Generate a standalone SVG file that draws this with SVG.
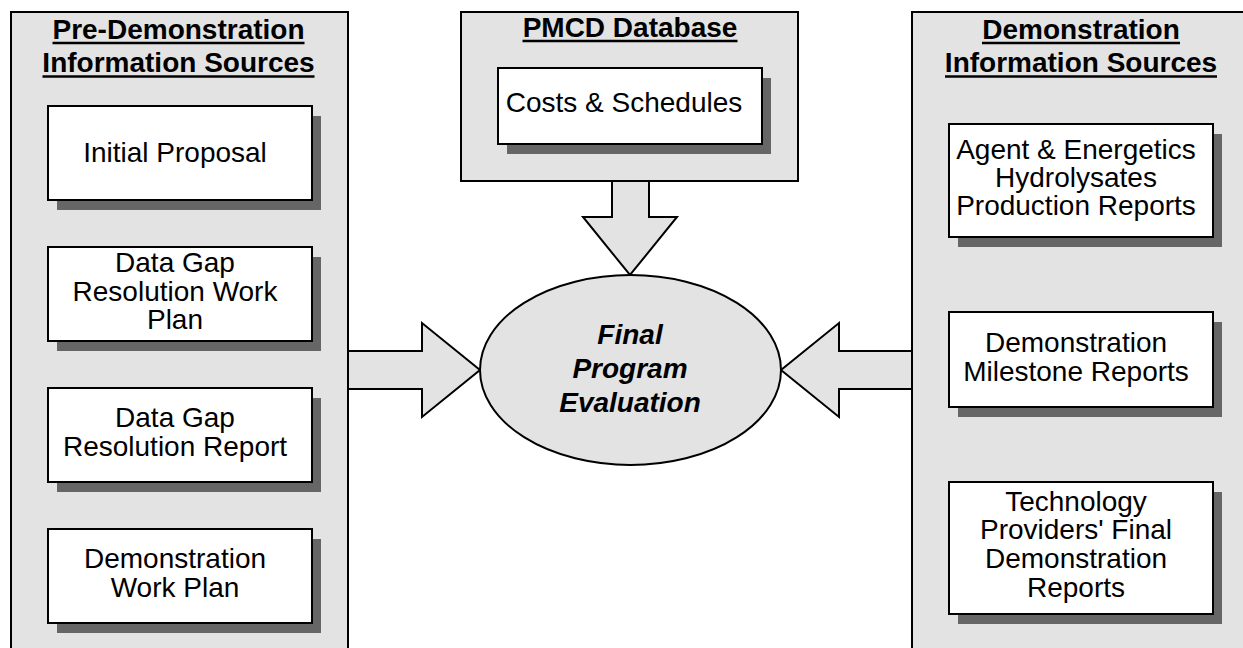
<svg xmlns="http://www.w3.org/2000/svg" width="1243" height="648" viewBox="0 0 1243 648">
<style>
.panel{fill:#e3e3e3;stroke:#000;stroke-width:2}
.box{fill:#fff;stroke:#000;stroke-width:2}
.shadow{fill:#666;stroke:none}
.arrow{fill:#e3e3e3;stroke:#000;stroke-width:2;stroke-linejoin:miter}
.title{font-family:"Liberation Sans",Arial,sans-serif;font-size:28px;font-weight:bold;fill:#000;text-anchor:middle}
.ul{stroke:#000;stroke-width:2.5}
.t{font-family:"Liberation Sans",Arial,sans-serif;font-size:28px;fill:#000;text-anchor:middle}
.ev{font-family:"Liberation Sans",Arial,sans-serif;font-size:28px;font-weight:bold;font-style:italic;fill:#000;text-anchor:middle}
</style>
<rect width="1243" height="648" fill="#fff"/>

<g id="panel-left">
<rect class="panel" x="11" y="12" width="337" height="660"/>
<text class="title" x="178.5" y="39">Pre-Demonstration</text>
<line class="ul" x1="52.5" y1="43" x2="304.5" y2="43"/>
<text class="title" x="178.5" y="72">Information Sources</text>
<line class="ul" x1="42.5" y1="76.5" x2="314.5" y2="76.5"/>
</g>

<g id="panel-pmcd">
<rect class="panel" x="461" y="12" width="337" height="169"/>
<text class="title" x="630" y="37">PMCD Database</text>
<line class="ul" x1="522.5" y1="41" x2="737.5" y2="41"/>
</g>

<g id="panel-right">
<rect class="panel" x="912" y="12" width="340" height="660"/>
<text class="title" x="1081" y="39">Demonstration</text>
<line class="ul" x1="982" y1="43" x2="1180" y2="43"/>
<text class="title" x="1081" y="72">Information Sources</text>
<line class="ul" x1="945" y1="76.5" x2="1217" y2="76.5"/>
</g>

<g id="connectors">
<path class="arrow" d="M349,351 L422,351 L422,323 L480,370 L422,417 L422,389 L349,389"/>
<path class="arrow" d="M911,351 L839,351 L839,323 L781,370 L839,417 L839,389 L911,389"/>
<path class="arrow" d="M612,182 L612,217 L583,217 L630,275 L677,217 L649,217 L649,182"/>
</g>

<g id="node-final">
<ellipse cx="630.5" cy="370" rx="150.5" ry="95" fill="#e3e3e3" stroke="#000" stroke-width="2"/>
<text class="ev" x="630" y="344">Final</text>
<text class="ev" x="630" y="378">Program</text>
<text class="ev" x="630" y="412">Evaluation</text>
</g>

<g id="node-costs">
<rect class="shadow" x="507" y="78" width="264" height="76"/>
<rect class="box" x="498" y="68" width="264" height="76"/>
<text class="t" x="624" y="112">Costs &amp; Schedules</text>
</g>

<g id="node-initial-proposal">
<rect class="shadow" x="57" y="116" width="264" height="94"/>
<rect class="box" x="48" y="106" width="264" height="94"/>
<text class="t" x="175" y="162">Initial Proposal</text>
</g>

<g id="node-dg-work-plan">
<rect class="shadow" x="57" y="257" width="264" height="94"/>
<rect class="box" x="48" y="247" width="264" height="94"/>
<text class="t" x="175" y="272">Data Gap</text>
<text class="t" x="175" y="301">Resolution Work</text>
<text class="t" x="175" y="329">Plan</text>
</g>

<g id="node-dg-report">
<rect class="shadow" x="57" y="398" width="264" height="94"/>
<rect class="box" x="48" y="388" width="264" height="94"/>
<text class="t" x="175" y="427">Data Gap</text>
<text class="t" x="175" y="456">Resolution Report</text>
</g>

<g id="node-demo-work-plan">
<rect class="shadow" x="57" y="539" width="264" height="94"/>
<rect class="box" x="48" y="529" width="264" height="94"/>
<text class="t" x="175" y="568">Demonstration</text>
<text class="t" x="175" y="597">Work Plan</text>
</g>

<g id="node-agent-reports">
<rect class="shadow" x="958" y="134" width="264" height="113"/>
<rect class="box" x="949" y="124" width="264" height="113"/>
<text class="t" x="1076" y="159">Agent &amp; Energetics</text>
<text class="t" x="1076" y="187">Hydrolysates</text>
<text class="t" x="1076" y="215">Production Reports</text>
</g>

<g id="node-milestone-reports">
<rect class="shadow" x="958" y="322" width="264" height="95"/>
<rect class="box" x="949" y="312" width="264" height="95"/>
<text class="t" x="1076" y="352">Demonstration</text>
<text class="t" x="1076" y="381">Milestone Reports</text>
</g>

<g id="node-final-reports">
<rect class="shadow" x="958" y="492" width="264" height="132"/>
<rect class="box" x="949" y="482" width="264" height="132"/>
<text class="t" x="1076" y="511">Technology</text>
<text class="t" x="1076" y="539">Providers' Final</text>
<text class="t" x="1076" y="568">Demonstration</text>
<text class="t" x="1076" y="597">Reports</text>
</g>
</svg>
